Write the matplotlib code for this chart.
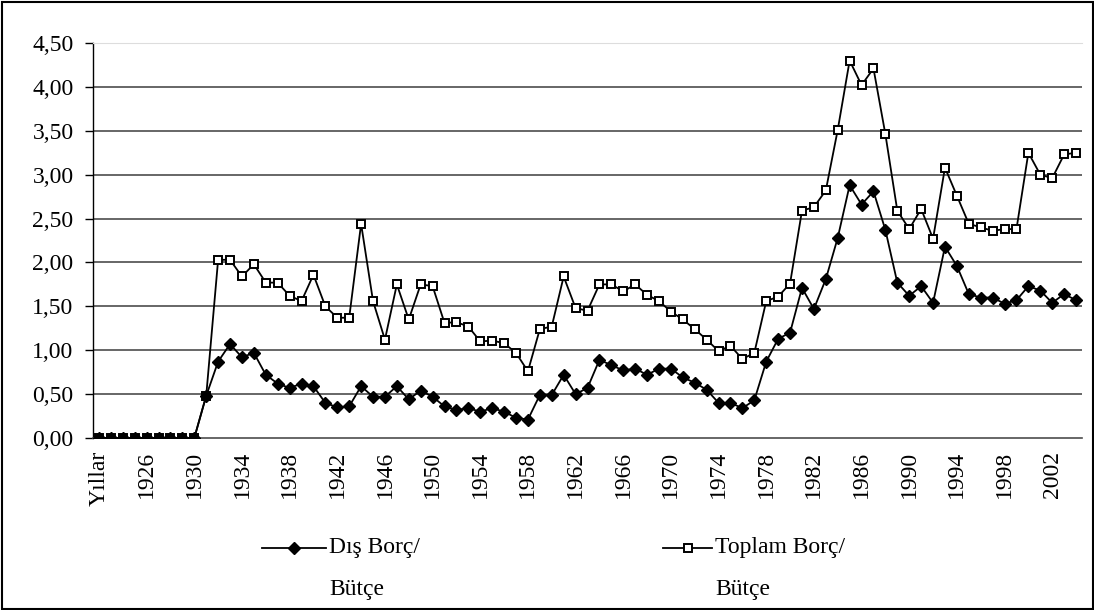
import matplotlib
matplotlib.use("Agg")
import matplotlib.pyplot as plt
from matplotlib.lines import Line2D
from matplotlib.patches import Rectangle

plt.rcParams['font.family'] = ['Liberation Serif', 'DejaVu Serif']

# categories: first cell is the header "Yıllar", then 1923..2004
categories = ['Yıllar'] + [str(y) for y in range(1923, 2005)]

# Yıllar + 1923..1930 are empty cells -> plotted as zero
dis_borc = [0.0] * 9 + [
    0.48, 0.87, 1.07, 0.92, 0.97, 0.72, 0.62, 0.57, 0.62, 0.59,   # 1931-1940
    0.40, 0.35, 0.36, 0.59, 0.47, 0.47, 0.59, 0.44, 0.54, 0.47,   # 1941-1950
    0.36, 0.32, 0.34, 0.30, 0.34, 0.30, 0.23, 0.21, 0.49, 0.49,   # 1951-1960
    0.72, 0.50, 0.57, 0.89, 0.83, 0.77, 0.79, 0.72, 0.79, 0.79,   # 1961-1970
    0.69, 0.63, 0.55, 0.40, 0.40, 0.34, 0.43, 0.87, 1.13, 1.20,   # 1971-1980
    1.71, 1.47, 1.81, 2.28, 2.88, 2.66, 2.81, 2.37, 1.77, 1.62,   # 1981-1990
    1.73, 1.54, 2.18, 1.96, 1.64, 1.60, 1.60, 1.53, 1.57, 1.73,   # 1991-2000
    1.68, 1.54, 1.64, 1.57,                                       # 2001-2004
]

toplam_borc = [0.0] * 9 + [
    0.48, 2.03, 2.03, 1.84, 1.98, 1.77, 1.77, 1.62, 1.56, 1.86,   # 1931-1940
    1.50, 1.37, 1.37, 2.44, 1.56, 1.12, 1.75, 1.35, 1.75, 1.73,   # 1941-1950
    1.31, 1.32, 1.27, 1.10, 1.11, 1.08, 0.97, 0.76, 1.24, 1.27,   # 1951-1960
    1.84, 1.48, 1.45, 1.75, 1.75, 1.67, 1.75, 1.63, 1.56, 1.44,   # 1961-1970
    1.35, 1.24, 1.12, 0.99, 1.05, 0.90, 0.97, 1.56, 1.61, 1.76,   # 1971-1980
    2.59, 2.63, 2.82, 3.51, 4.30, 4.02, 4.21, 3.46, 2.59, 2.38,   # 1981-1990
    2.61, 2.27, 3.08, 2.76, 2.44, 2.40, 2.36, 2.38, 2.38, 3.25,   # 1991-2000
    3.00, 2.96, 3.23, 3.25,                                       # 2001-2004
]

series_labels = ['Dış Borç/\nBütçe', 'Toplam Borç/\nBütçe']
y_ticks = [0, 0.5, 1.0, 1.5, 2.0, 2.5, 3.0, 3.5, 4.0, 4.5]

FS = 17
W, H = 1094, 610

fig = plt.figure(figsize=(W / 100, H / 100), dpi=100)
ax = fig.add_axes([93 / W, 1 - 438 / H, (1082 - 93) / W, (438 - 43) / H])

x = list(range(len(categories)))

ax.plot(x, toplam_borc, color='black', lw=1.3, marker='s', markersize=5.5,
        markerfacecolor='white', markeredgecolor='black', markeredgewidth=1.4,
        zorder=3)
ax.plot(x, dis_borc, color='black', lw=1.3, marker='D', markersize=6.5,
        markerfacecolor='black', markeredgecolor='black', zorder=4)

ax.set_xlim(-0.5, len(categories) - 0.5)
ax.set_ylim(0, 4.5)

ax.set_yticks(y_ticks)
ax.set_yticklabels([f"{v:.2f}".replace('.', ',') for v in y_ticks], fontsize=FS)
for v in y_ticks[1:-1]:
    ax.axhline(v, color='#4d4d4d', lw=1.2, zorder=1)

ax.set_xticks(x[::4])
ax.set_xticklabels(categories[::4], rotation=90, fontsize=FS, va='top')

ax.tick_params(axis='y', length=6, width=1, pad=8, color='black')
ax.tick_params(axis='x', length=0, pad=9)

ax.spines['left'].set_color('black')
ax.spines['left'].set_linewidth(1.0)
ax.spines['bottom'].set_color('#4d4d4d')
ax.spines['bottom'].set_linewidth(1.2)
ax.spines['top'].set_color('#dddddd')
ax.spines['right'].set_visible(False)

# legend drawn by hand so the handle sits on the first text line
def legend_entry(x0, x1, y, label, **style):
    xm = (x0 + x1) / 2
    fig.add_artist(Line2D([x0 / W, xm / W, x1 / W], [1 - y / H] * 3,
                          transform=fig.transFigure, color='black', lw=1.3,
                          markevery=[1], **style))
    first, second = label.split('\n')
    fig.text((x1 + 3) / W, 1 - y / H, first, fontsize=FS, va='center', ha='left')
    fig.text((x1 + 3) / W, 1 - (y + 42) / H, second, fontsize=FS, va='center', ha='left')

legend_entry(262, 326, 548, series_labels[0], marker='D', markersize=6.5,
             markerfacecolor='black', markeredgecolor='black')
legend_entry(663, 712, 548, series_labels[1], marker='s', markersize=5.5,
             markerfacecolor='white', markeredgecolor='black', markeredgewidth=1.4)

# outer chart border
fig.add_artist(Rectangle((1.5 / W, 1.5 / H), (W - 3) / W, (H - 3) / H,
                         transform=fig.transFigure, fill=False,
                         edgecolor='black', lw=1.5))

fig.savefig('out.png', dpi=100)
